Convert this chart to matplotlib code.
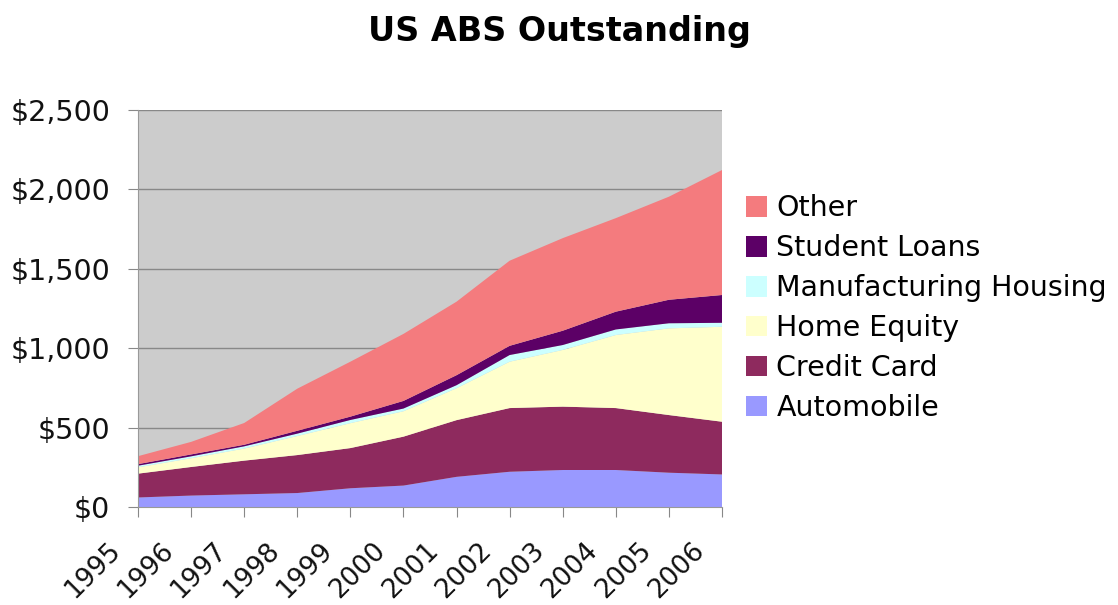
import matplotlib
matplotlib.use("Agg")
import matplotlib.pyplot as plt
import matplotlib.transforms as mtransforms
from matplotlib.ticker import FuncFormatter

# US ABS outstanding, $ billions
years = [1995, 1996, 1997, 1998, 1999, 2000, 2001, 2002, 2003, 2004, 2005, 2006]
automobile = [60, 72, 80, 88, 118, 135, 190, 222, 233, 233, 216, 205]
credit_card = [150, 180, 212, 239, 253, 308, 357, 401, 399, 390, 363, 332]
home_equity = [40, 55, 76, 120, 157, 160, 201, 292, 357, 460, 546, 598]
manuf_housing = [10, 12, 14, 15, 20, 17, 19, 42, 31, 35, 32, 25]
student_loans = [10, 12, 10, 18, 21, 48, 63, 58, 90, 112, 148, 175]
other = [50, 79, 137, 265, 346, 422, 463, 536, 583, 589, 649, 787]

labels = ["Automobile", "Credit Card", "Home Equity",
          "Manufacturing Housing", "Student Loans", "Other"]
colors = ["#9999FF", "#8E2A5E", "#FFFFCC", "#CCFFFF", "#5C0066", "#F47B7E"]

plt.rcParams["font.family"] = "DejaVu Sans"

fig = plt.figure(figsize=(11.18, 6.05), dpi=100)
ax = fig.add_axes([138 / 1118, 1 - 507 / 605, 584 / 1118, 397 / 605])

ax.stackplot(years, automobile, credit_card, home_equity,
             manuf_housing, student_loans, other,
             labels=labels, colors=colors, linewidth=0)

ax.set_facecolor("#CCCCCC")
ax.set_axisbelow(True)
ax.grid(axis="y", color="#888888", linewidth=1)
ax.set_xlim(1995, 2006)
ax.set_ylim(0, 2500)
ax.set_yticks([0, 500, 1000, 1500, 2000, 2500])
ax.yaxis.set_major_formatter(FuncFormatter(lambda v, p: "${:,.0f}".format(v)))
ax.set_xticks(years)
ax.set_xticklabels([str(y) for y in years], rotation=45, ha="right",
                   va="top", rotation_mode="anchor")

ax.tick_params(axis="both", color="#888888", length=7, labelcolor="#111111")
ax.tick_params(axis="y", pad=13, labelsize=20.5)
ax.tick_params(axis="x", pad=15, labelsize=19)
for side in ["top", "right"]:
    ax.spines[side].set_visible(False)
for side in ["left", "bottom"]:
    ax.spines[side].set_color("#999999")

# nudge the slanted year labels left, like the original
shift = mtransforms.ScaledTranslation(-31 / 100, 0, fig.dpi_scale_trans)
for lbl in ax.get_xticklabels():
    lbl.set_transform(lbl.get_transform() + shift)

handles, labs = ax.get_legend_handles_labels()
fig.legend(handles[::-1], labs[::-1], loc="center left",
           bbox_to_anchor=(746 / 1118, 1 - 308 / 605), frameon=False,
           fontsize=20.5, handlelength=0.75, handleheight=0.75,
           handletextpad=0.32, labelspacing=0.42, borderpad=0,
           borderaxespad=0)

fig.text(0.5, 1 - 32 / 605, "US ABS Outstanding", ha="center", va="center",
         fontsize=24, fontweight="bold")

fig.savefig("out.png", dpi=100)
